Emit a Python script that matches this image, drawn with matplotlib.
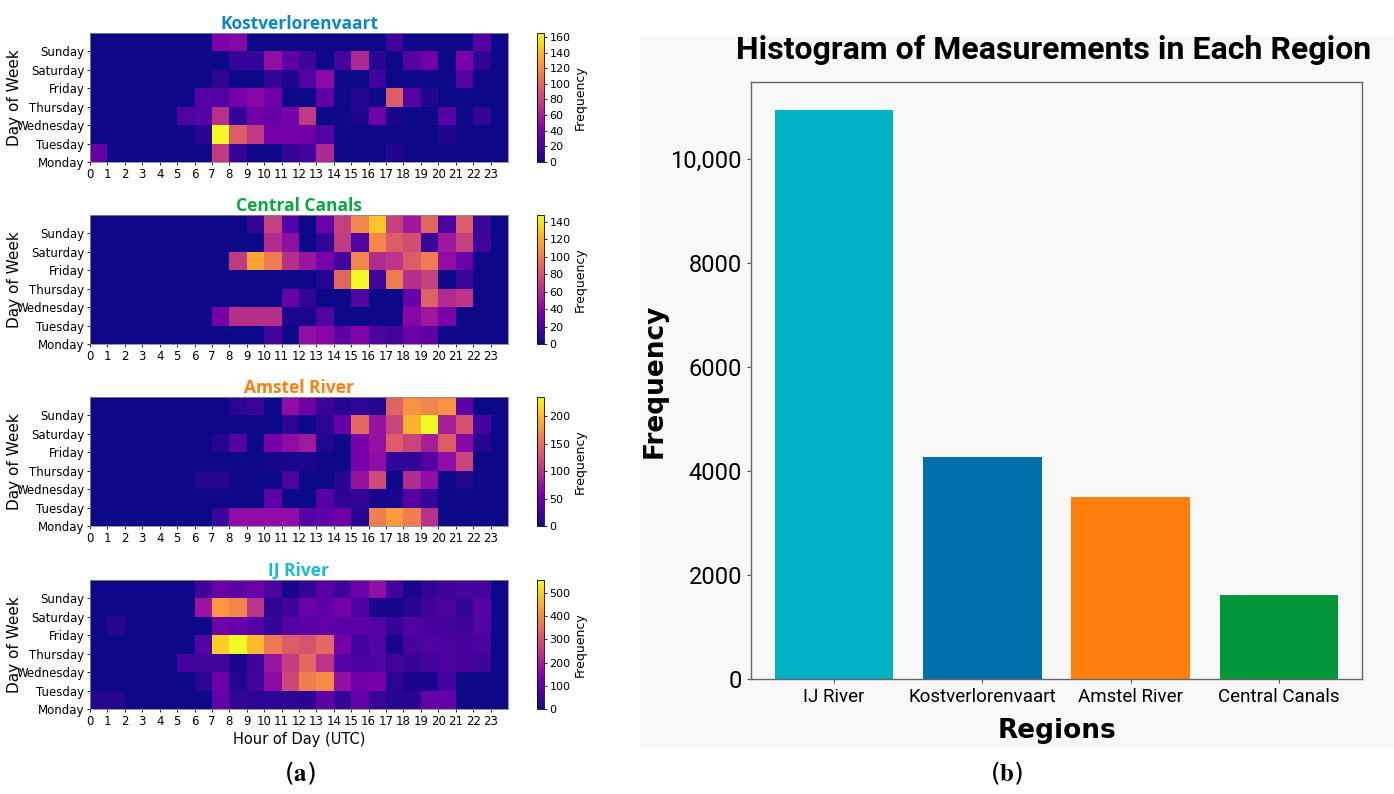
import matplotlib
matplotlib.use("Agg")
import matplotlib.pyplot as plt
import numpy as np
from matplotlib.patches import Rectangle
from matplotlib.ticker import FuncFormatter

plt.rcParams['mathtext.fontset'] = 'stix'

# heatmap data: rows Monday..Sunday, columns hour 0..23
days = ["Monday", "Tuesday", "Wednesday", "Thursday", "Friday", "Saturday", "Sunday"]
hours = list(range(24))

kost_counts = [
    [30, 0, 0, 0, 0, 0, 0, 75, 12, 0, 0, 12, 18, 65, 0, 0, 0, 5, 0, 0, 0, 0, 0, 0],
    [0, 0, 0, 0, 0, 0, 8, 165, 95, 75, 38, 38, 35, 22, 0, 0, 0, 0, 0, 0, 5, 0, 0, 0],
    [0, 0, 0, 0, 0, 22, 25, 70, 12, 35, 30, 38, 75, 0, 0, 5, 35, 3, 0, 0, 25, 0, 12, 0],
    [0, 0, 0, 0, 0, 0, 25, 22, 38, 45, 35, 0, 0, 28, 0, 6, 0, 95, 25, 5, 0, 0, 0, 0],
    [0, 0, 0, 0, 0, 0, 0, 10, 0, 0, 12, 5, 22, 48, 0, 0, 15, 0, 0, 0, 0, 25, 0, 0],
    [0, 0, 0, 0, 0, 0, 0, 0, 12, 12, 50, 28, 15, 0, 18, 65, 8, 0, 25, 35, 0, 40, 10, 0],
    [0, 0, 0, 0, 0, 0, 0, 40, 45, 0, 0, 0, 0, 0, 0, 0, 0, 15, 0, 0, 0, 0, 25, 0],
]

central_counts = [
    [0, 0, 0, 0, 0, 0, 0, 0, 0, 0, 15, 0, 45, 40, 25, 38, 18, 15, 30, 25, 0, 0, 0, 0],
    [0, 0, 0, 0, 0, 0, 0, 33, 62, 62, 62, 3, 3, 20, 0, 0, 0, 0, 40, 50, 35, 0, 0, 0],
    [0, 0, 0, 0, 0, 0, 0, 0, 0, 0, 0, 28, 10, 0, 0, 20, 0, 0, 28, 88, 60, 65, 0, 0],
    [0, 0, 0, 0, 0, 0, 0, 0, 0, 0, 0, 0, 0, 5, 90, 148, 15, 100, 62, 70, 0, 12, 0, 0],
    [0, 0, 0, 0, 0, 0, 0, 0, 68, 118, 100, 62, 48, 35, 15, 105, 60, 65, 85, 100, 45, 30, 0, 0],
    [0, 0, 0, 0, 0, 0, 0, 0, 0, 0, 60, 45, 0, 10, 68, 20, 105, 85, 78, 12, 50, 70, 15, 0],
    [0, 0, 0, 0, 0, 0, 0, 0, 0, 10, 70, 20, 0, 30, 70, 105, 130, 70, 50, 90, 18, 85, 12, 0],
]

amstel_counts = [
    [0, 0, 0, 0, 0, 0, 0, 20, 70, 70, 70, 70, 35, 40, 50, 10, 160, 180, 160, 100, 0, 0, 0, 0],
    [0, 0, 0, 0, 0, 0, 0, 0, 0, 0, 40, 0, 0, 35, 12, 18, 3, 5, 35, 15, 0, 0, 0, 0],
    [0, 0, 0, 0, 0, 0, 10, 10, 0, 0, 0, 30, 0, 0, 10, 75, 120, 0, 95, 70, 0, 10, 0, 0],
    [0, 0, 0, 0, 0, 0, 0, 0, 0, 0, 3, 5, 5, 0, 0, 55, 70, 15, 15, 35, 70, 115, 0, 0],
    [0, 0, 0, 0, 0, 0, 0, 10, 35, 0, 55, 70, 80, 8, 0, 55, 75, 135, 115, 85, 135, 65, 10, 0],
    [0, 0, 0, 0, 0, 0, 0, 0, 0, 0, 0, 12, 0, 12, 45, 145, 75, 115, 195, 235, 85, 125, 25, 0],
    [0, 0, 0, 0, 0, 0, 0, 0, 12, 20, 0, 70, 50, 20, 10, 15, 8, 140, 175, 165, 175, 40, 0, 0],
]

ij_counts = [
    [20, 20, 0, 0, 0, 0, 0, 100, 40, 30, 30, 30, 25, 90, 40, 100, 45, 25, 25, 100, 100, 0, 0, 0],
    [0, 0, 0, 0, 0, 0, 30, 110, 20, 55, 160, 280, 380, 400, 170, 120, 130, 30, 10, 10, 60, 0, 0, 0],
    [0, 0, 0, 0, 0, 55, 55, 55, 10, 50, 180, 260, 340, 240, 80, 70, 75, 55, 40, 60, 70, 65, 50, 0],
    [0, 0, 0, 0, 0, 0, 80, 500, 555, 470, 370, 320, 300, 340, 130, 60, 75, 10, 65, 75, 70, 65, 70, 0],
    [0, 20, 0, 0, 0, 0, 0, 120, 100, 80, 40, 80, 90, 100, 90, 90, 80, 40, 75, 65, 60, 50, 80, 0],
    [0, 0, 0, 0, 0, 0, 180, 420, 390, 240, 30, 50, 110, 95, 130, 70, 10, 10, 25, 50, 70, 40, 85, 0],
    [0, 0, 0, 0, 0, 0, 50, 110, 90, 110, 70, 10, 40, 85, 50, 110, 170, 60, 10, 40, 50, 55, 60, 0],
]

heatmap_titles = ["Kostverlorenvaart", "Central Canals", "Amstel River", "IJ River"]
heatmap_title_colors = ["#0e86c8", "#0aa83a", "#ff7f0e", "#17bcd4"]
heatmap_cbar_ticks = [range(0, 161, 20), range(0, 141, 20), range(0, 201, 50), range(0, 501, 100)]

# bar chart data
regions = ["IJ River", "Kostverlorenvaart", "Amstel River", "Central Canals"]
region_counts = [10950, 4270, 3500, 1620]
region_colors = ["#00b2c4", "#0070aa", "#ff7f0e", "#00963a"]

W, H = 1394, 794
fig = plt.figure(figsize=(W / 100, H / 100), dpi=100)


def fx(px):
    return px / W


def fy(px):
    return 1 - px / H


# grey background of panel (b)
fig.patches.append(Rectangle((fx(640), fy(748)), 1 - fx(640), fy(37) - fy(748),
                             transform=fig.transFigure, facecolor="#f8f8f8",
                             edgecolor="none", zorder=-5))

# ---- panel (a): four heatmaps ----
hm_tops = [33, 215, 397, 580]
hm_height = 129
all_counts = [kost_counts, central_counts, amstel_counts, ij_counts]
for i, counts in enumerate(all_counts):
    top = hm_tops[i]
    ax = fig.add_axes([fx(90), fy(top + hm_height), fx(508) - fx(90), hm_height / H])
    data = np.array(counts, dtype=float)
    mesh = ax.pcolormesh(np.arange(25), np.arange(8), data, cmap="plasma",
                         vmin=0, vmax=data.max())
    ax.set_xlim(0, 24)
    ax.set_ylim(0, 7)
    ax.set_xticks(hours)
    ax.set_xticklabels([str(h) for h in hours], fontsize=8.5)
    ax.set_yticks(range(7))
    ax.set_yticklabels(days, fontsize=8.5)
    ax.tick_params(length=2.5, width=0.6, pad=1.5)
    for s in ax.spines.values():
        s.set_linewidth(0.6)
        s.set_color("#888888")
    ax.set_ylabel("Day of Week", fontsize=11)
    ax.yaxis.set_label_coords(-0.163, 0.5)
    ax.set_title(heatmap_titles[i], color=heatmap_title_colors[i], fontsize=12.5,
                 fontweight="bold", family=["Open Sans", "DejaVu Sans"], pad=3)
    if i == 3:
        ax.set_xlabel("Hour of Day (UTC)", fontsize=10.5, labelpad=3)

    cax = fig.add_axes([fx(537), fy(top + hm_height), fx(544) - fx(537), hm_height / H])
    cb = fig.colorbar(mesh, cax=cax)
    cb.set_ticks(list(heatmap_cbar_ticks[i]))
    cb.ax.tick_params(labelsize=8, length=2.5, width=0.6, pad=1.5)
    cb.outline.set_linewidth(0.6)
    cb.set_label("Frequency", fontsize=9, labelpad=2)

fig.text(fx(300), fy(773), r"($\mathbf{a}$)", ha="center", va="center", fontsize=18)

# ---- panel (b): bar chart ----
bx = fig.add_axes([fx(751), fy(679), fx(1362) - fx(751), fy(82) - fy(679)])
bx.set_facecolor("#f8f8f8")
x = np.arange(len(regions))
bx.bar(x, region_counts, width=0.8, color=region_colors)
bx.set_xlim(-0.56, 3.56)
bx.set_ylim(0, 11480)
bx.set_yticks([0, 2000, 4000, 6000, 8000, 10000])
bx.yaxis.set_major_formatter(FuncFormatter(lambda v, p: f"{v:,.0f}" if v >= 10000 else f"{v:.0f}"))
bx.set_xticks(x)
bx.set_xticklabels(regions)
narrow = ["Roboto", "DejaVu Sans"]
for lab in bx.get_yticklabels():
    lab.set_family(narrow)
    lab.set_fontsize(17)
for lab in bx.get_xticklabels():
    lab.set_family(narrow)
    lab.set_fontsize(13.5)
bx.tick_params(length=3, width=0.8, color="#555555")
for s in bx.spines.values():
    s.set_color("#666666")
    s.set_linewidth(1.0)
bx.set_ylabel("Frequency", fontsize=19, fontweight="bold")
bx.yaxis.set_label_coords(-0.137, 0.5)
bx.set_xlabel("Regions", fontsize=19, fontweight="bold")
bx.xaxis.set_label_coords(0.5, -0.065)
fig.text(fx(1054), fy(50), "Histogram of Measurements in Each Region", ha="center",
         va="center", fontsize=23, fontweight="bold", family=narrow)

fig.text(fx(1007), fy(773), r"($\mathbf{b}$)", ha="center", va="center", fontsize=18)

fig.savefig("out.png", dpi=100)
